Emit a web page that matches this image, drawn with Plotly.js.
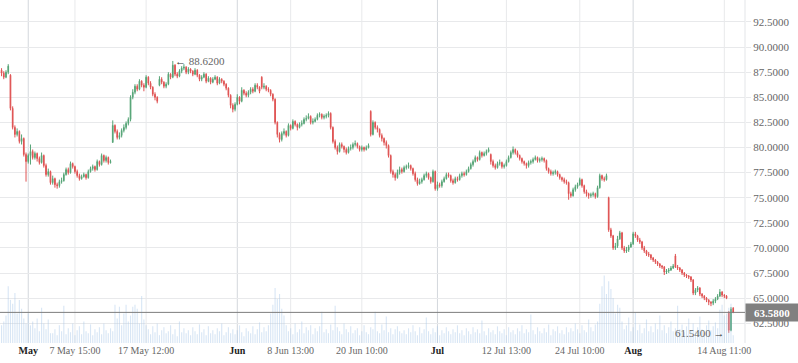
<!DOCTYPE html>
<html>
<head>
<meta charset="utf-8">
<script src="https://cdn.plot.ly/plotly-3.0.1.min.js"></script>
<style>html,body{margin:0;padding:0;background:#fff;}#chart{width:798px;height:363px;}</style>
</head>
<body>
<div id="chart"></div>
<script>
// ---- data ----
const opens = [
87.7,87.4,87.0,87.5,87.2,83.9,82.0,81.3,81.6,80.6,
80.9,79.3,78.6,79.2,79.6,79.0,79.4,78.9,78.5,79.2,
78.2,77.3,77.6,76.5,76.9,76.3,76.2,76.6,76.7,77.3,
77.8,77.5,78.4,78.1,77.6,77.2,76.9,77.1,77.3,77.0,
77.6,77.9,78.1,77.8,78.6,78.3,79.2,78.7,79.0,78.5,
80.5,82.2,81.6,81.0,81.2,81.7,82.0,82.4,82.8,85.0,
85.5,86.1,85.8,86.6,86.2,86.0,87.0,86.4,86.0,85.3,
85.0,86.2,86.8,86.5,86.1,86.3,87.3,87.0,88.2,87.3,
87.1,87.6,87.9,88.0,87.5,87.8,87.6,87.3,87.7,87.2,
86.8,87.0,87.3,86.6,86.9,86.5,86.8,87.0,86.4,86.8,
86.6,86.3,85.9,85.2,84.2,83.8,84.3,85.0,84.6,85.7,
85.4,85.2,85.5,85.8,85.6,86.2,86.0,87.0,86.0,86.1,
85.8,85.7,85.3,84.8,82.5,81.3,80.8,81.4,81.6,81.2,
82.2,81.9,82.6,82.3,82.0,82.3,82.4,82.8,82.9,83.1,
82.5,82.6,82.8,83.2,83.3,83.0,83.1,83.2,83.4,82.0,
80.6,80.0,79.6,80.3,80.1,79.8,79.5,79.9,80.0,80.3,
80.4,80.1,79.8,80.0,79.8,80.0,83.6,81.3,82.5,82.0,
81.8,81.2,80.9,80.5,80.2,79.2,77.6,77.3,77.0,77.5,
77.8,77.6,78.0,78.1,78.2,77.9,77.4,76.8,76.4,76.6,
76.8,77.2,77.4,77.0,76.6,77.6,75.9,76.3,76.2,76.6,
76.9,77.3,77.2,76.7,76.5,76.9,76.8,77.2,77.4,77.3,
77.6,77.9,78.3,78.6,79.0,78.8,79.5,79.2,79.4,79.6,
79.3,78.6,78.2,78.0,78.4,78.5,78.1,78.2,78.6,79.0,
79.5,79.8,79.5,79.2,78.9,78.6,78.4,78.2,78.5,78.6,
78.8,79.0,78.7,78.8,78.9,78.7,77.9,77.6,77.4,77.5,
77.6,77.3,77.0,76.8,76.6,76.5,75.4,75.2,75.8,76.1,
76.3,76.8,76.2,75.6,75.4,75.2,75.3,75.4,75.1,76.0,
77.2,76.9,76.8,75.0,71.8,71.2,70.0,70.2,70.9,71.5,
70.0,69.7,69.8,70.1,70.4,71.4,71.2,70.8,70.6,70.0,
69.7,69.4,69.3,69.0,68.8,68.6,68.4,68.2,68.1,67.6,
67.7,67.8,68.0,69.2,68.1,68.0,67.8,67.5,67.3,67.2,
67.1,66.8,65.5,65.8,66.0,65.4,65.2,65.0,64.8,64.6,
64.5,64.7,64.9,65.2,65.6,65.3,65.2,63.6,61.8,64.0
];
const highs = [
87.9,87.6,87.7,88.3,87.3,84.1,82.2,81.9,81.7,81.3,
81.0,79.5,79.4,80.3,79.8,79.6,79.5,79.1,79.5,79.3,
78.4,77.9,77.7,77.2,77.0,76.5,76.8,77.0,77.5,78.0,
78.0,78.6,78.5,78.2,77.8,77.4,77.3,77.5,77.4,77.8,
78.1,78.3,78.2,78.8,78.7,79.4,79.3,79.2,79.1,78.8,
82.7,82.3,81.8,81.5,81.9,82.3,82.6,83.0,85.2,85.8,
86.3,86.3,86.8,86.7,86.4,87.2,87.1,86.6,86.1,85.5,
85.1,87.1,87.0,86.6,86.5,87.5,87.4,88.62,88.3,87.5,
87.8,88.1,88.3,88.1,88.0,87.9,87.7,87.9,87.8,87.3,
87.2,87.5,87.4,87.1,87.0,87.0,87.2,87.1,87.0,86.9,
86.7,86.4,86.0,85.3,84.4,84.5,85.3,85.1,86.0,85.8,
85.6,85.7,86.0,86.0,86.4,86.4,86.1,87.1,86.4,86.2,
86.0,85.8,85.4,84.9,82.6,81.5,81.6,81.9,81.7,82.4,
82.3,82.8,82.7,82.4,82.5,82.7,83.0,83.2,83.4,83.2,
82.9,83.0,83.4,83.5,83.4,83.3,83.4,83.6,83.5,82.1,
80.8,80.2,80.5,80.5,80.2,80.0,80.1,80.3,80.5,80.7,
80.5,80.2,80.2,80.1,80.2,80.4,83.7,82.7,82.6,82.2,
81.9,81.4,81.0,80.7,80.3,79.3,77.8,77.5,77.8,78.1,
78.0,78.2,78.3,78.5,78.3,78.0,77.6,77.0,76.9,77.0,
77.4,77.6,77.5,77.1,77.8,77.7,76.6,76.5,76.8,77.1,
77.5,77.5,77.3,76.9,77.1,77.1,77.4,77.6,77.6,77.8,
78.1,78.5,78.8,79.2,79.1,79.7,79.6,79.6,79.8,80.0,
79.4,78.8,78.4,78.6,78.8,78.6,78.4,78.8,79.2,79.7,
80.1,79.9,79.7,79.3,79.0,78.7,78.5,78.7,78.8,79.0,
79.2,79.1,79.0,79.1,79.0,78.8,78.0,77.8,77.7,77.8,
77.7,77.4,77.1,77.0,76.8,76.6,75.6,76.0,76.3,76.5,
77.0,76.9,76.3,75.8,75.5,75.5,75.6,75.5,76.2,77.4,
77.3,77.1,77.4,75.1,72.0,71.3,70.5,71.2,71.7,71.6,
70.2,70.1,70.3,70.6,71.6,71.6,71.3,71.0,70.7,70.2,
69.8,69.6,69.4,69.1,68.9,68.7,68.5,68.3,68.2,67.9,
68.0,68.2,68.4,69.4,68.3,68.1,67.9,67.6,67.4,67.3,
67.2,66.9,66.0,66.2,66.1,65.5,65.3,65.1,64.9,64.7,
64.9,65.1,65.4,65.9,65.7,65.4,65.3,63.7,64.1,64.1
];
const lows = [
87.1,86.8,86.9,87.3,83.7,81.8,81.0,81.1,80.4,80.3,
79.1,76.6,78.4,78.3,78.8,78.8,78.6,78.3,78.4,78.0,
77.1,77.1,76.3,76.3,76.0,75.9,76.0,76.4,76.6,77.2,
77.3,77.4,77.9,77.4,77.0,76.7,76.8,77.0,76.8,76.9,
77.5,77.7,77.6,77.7,78.1,78.2,78.5,78.5,78.3,78.4,
80.5,81.4,80.8,80.8,81.0,81.5,81.8,82.2,82.6,84.8,
85.3,85.6,85.7,86.0,85.6,85.9,86.2,85.8,85.1,84.7,
84.4,86.1,86.3,85.9,85.9,86.2,86.8,86.9,87.1,86.9,
87.0,87.4,87.7,87.3,87.3,87.4,87.1,87.2,87.0,86.6,
86.6,86.9,86.4,86.5,86.3,86.4,86.7,86.2,86.3,86.4,
86.1,85.7,85.0,83.9,83.5,83.6,84.2,84.3,84.5,85.2,
85.0,85.0,85.3,85.4,85.5,85.8,85.4,85.8,85.8,85.6,
85.5,85.1,84.6,82.3,81.0,80.5,80.6,81.2,81.0,81.1,
81.7,81.8,82.1,81.7,81.9,82.1,82.3,82.6,82.8,82.3,
82.3,82.5,82.7,83.0,82.8,82.8,82.9,83.0,81.8,80.4,
79.8,79.3,79.5,79.9,79.5,79.3,79.4,79.7,79.8,80.1,
79.9,79.6,79.6,79.6,79.7,79.9,81.1,81.2,81.8,81.5,
81.0,80.6,80.2,79.9,79.0,77.4,77.0,76.7,76.9,77.3,
77.4,77.5,77.8,77.9,77.7,77.2,76.6,76.2,76.3,76.4,
76.7,77.0,76.8,76.4,76.5,75.7,75.7,76.0,76.0,76.5,
76.8,77.0,76.5,76.3,76.4,76.6,76.7,77.0,77.1,77.2,
77.5,77.8,78.1,78.5,78.6,78.7,79.0,79.1,79.2,79.5,
78.3,78.0,77.8,77.9,78.2,77.9,77.9,78.1,78.5,78.9,
79.3,79.3,79.0,78.7,78.4,78.2,77.9,78.0,78.3,78.4,
78.7,78.5,78.5,78.6,78.5,77.7,77.4,77.2,77.2,77.3,
77.1,76.8,76.6,76.4,76.3,74.8,75.0,75.1,75.6,75.9,
76.2,76.0,75.4,75.1,74.9,75.0,75.1,74.9,75.0,75.9,
76.7,76.6,76.7,71.6,71.0,69.8,69.8,70.0,70.8,69.8,
69.5,69.5,69.6,70.0,70.3,71.0,70.6,70.4,69.8,69.5,
69.2,69.1,68.8,68.6,68.4,68.2,68.0,67.9,67.3,67.4,
67.5,67.7,67.9,68.0,67.8,67.6,67.3,67.1,67.0,66.9,
66.6,65.3,65.3,65.6,65.2,65.0,64.8,64.6,64.3,64.2,
64.3,64.5,64.8,65.1,65.1,65.0,64.9,61.54,61.7,63.5
];
const closes = [
87.4,87.0,87.5,88.1,83.9,82.0,81.3,81.6,80.6,80.9,
79.3,78.6,79.2,79.6,79.0,79.4,78.9,78.5,79.2,78.2,
77.3,77.6,76.5,76.9,76.3,76.2,76.6,76.7,77.3,77.8,
77.5,78.4,78.1,77.6,77.2,76.9,77.1,77.3,77.0,77.6,
77.9,78.1,77.8,78.6,78.3,79.2,78.7,79.0,78.5,78.6,
82.2,81.6,81.0,81.2,81.7,82.0,82.4,82.8,85.0,85.5,
86.1,85.8,86.6,86.2,86.0,87.0,86.4,86.0,85.3,85.0,
84.6,86.8,86.5,86.1,86.3,87.3,87.0,88.2,87.3,87.1,
87.6,87.9,88.0,87.5,87.8,87.6,87.3,87.7,87.2,86.8,
87.0,87.3,86.6,86.9,86.5,86.8,87.0,86.4,86.8,86.6,
86.3,85.9,85.2,84.2,83.8,84.3,85.0,84.6,85.7,85.4,
85.2,85.5,85.8,85.6,86.2,86.0,85.6,86.0,86.1,85.8,
85.7,85.3,84.8,82.5,81.3,80.8,81.4,81.6,81.2,82.2,
81.9,82.6,82.3,82.0,82.3,82.4,82.8,82.9,83.1,82.5,
82.6,82.8,83.2,83.3,83.0,83.1,83.2,83.4,82.0,80.6,
80.0,79.6,80.3,80.1,79.8,79.5,79.9,80.0,80.3,80.4,
80.1,79.8,80.0,79.8,80.0,80.2,81.3,82.5,82.0,81.8,
81.2,80.9,80.5,80.2,79.2,77.6,77.3,77.0,77.5,77.8,
77.6,78.0,78.1,78.2,77.9,77.4,76.8,76.4,76.6,76.8,
77.2,77.4,77.0,76.6,77.6,75.9,76.3,76.2,76.6,76.9,
77.3,77.2,76.7,76.5,76.9,76.8,77.2,77.4,77.3,77.6,
77.9,78.3,78.6,79.0,78.8,79.5,79.2,79.4,79.6,79.8,
78.6,78.2,78.0,78.4,78.5,78.1,78.2,78.6,79.0,79.5,
79.8,79.5,79.2,78.9,78.6,78.4,78.2,78.5,78.6,78.8,
79.0,78.7,78.8,78.9,78.7,77.9,77.6,77.4,77.5,77.6,
77.3,77.0,76.8,76.6,76.5,75.4,75.2,75.8,76.1,76.3,
76.8,76.2,75.6,75.4,75.2,75.3,75.4,75.1,76.0,77.2,
76.9,76.8,77.2,71.8,71.2,70.0,70.2,70.9,71.5,70.0,
69.7,69.8,70.1,70.4,71.4,71.2,70.8,70.6,70.0,69.7,
69.4,69.3,69.0,68.8,68.6,68.4,68.2,68.1,67.6,67.7,
67.8,68.0,68.2,68.1,68.0,67.8,67.5,67.3,67.2,67.1,
66.8,65.5,65.8,66.0,65.4,65.2,65.0,64.8,64.6,64.5,
64.7,64.9,65.2,65.6,65.3,65.2,65.0,61.8,63.9,63.58
];
const volumes = [
18,22,28,58, 44,40,51,30,44,35, 25,20,30,18,
22,15,25,12,36,20,14,24,10,
10,14,8,18,12,38,9,15,11,20,8,13,17,9,22,12,10,19,8,14,11,16,9,20,13,10,15,12,
39,25,37,18,30,39,22,28,37,39,35,20,48,24,18,
14,9,17,11,20,8,13,16,10,12,18,9,14,7,22,11,15,10,13,8,
16,12,9,19,11,14,8,17,10,13,9,15,12,20,8,11,16,10,14,9,
13,18,11,7,15,12,10,17,9,14,21,11,16,12,18,
30,39,56,45,50,35,28,
18,12,15,9,20,11,14,22,10,16,13,18,9,15,12,17,32,11,14,10,
19,13,38,16,12,9,20,14,11,17,10,13,15,8,12,18,11,9,16,14,
32,12,10,19,13,27,11,15,9,14,17,12,10,
13,9,15,11,18,12,8,16,10,14,26,12,9,15,11,17,8,13,10,16,
12,9,14,11,18,10,13,8,15,12,9,16,11,14,10,23,12,8,15,11,
13,9,17,12,10,14,8,16,11,13,9,15,12,18,10,14,11,29,13,9,
16,12,10,15,11,19,8,14,12,17,10,13,9,16,11,15,12,20,14,10,
18,13,11,24,16,12,19,22,
40,58,69,50,63,55,46,30,39,36,
22,14,18,26,12,16,31,13,19,10,15,24,12,17,11,20,14,28,13,18,
10,16,22,12,15,38,14,19,11,17,25,13,20,12,16,27,14,10,18,23,
13,17,21,15,
34,39,28,30,36,40,8
];
const tickIndex = [12, 33, 65, 106, 130, 162, 196, 227, 260, 284, 325];
const tickLabels = ['May','7 May 15:00','17 May 12:00','Jun','8 Jun 13:00','20 Jun 10:00','Jul','12 Jul 13:00','24 Jul 10:00','Aug','14 Aug 11:00'];
const monthLabels = ['May','Jun','Jul','Aug'];

// ---- chart ----
const idx = closes.map((_, i) => i);
const FONT = 'Liberation Serif, Times New Roman, serif';
const RED = '#df5252', GREEN = '#55a476';

let maxI = 0, minI = 0;
highs.forEach((v, i) => { if (v > highs[maxI]) maxI = i; });
lows.forEach((v, i) => { if (v < lows[minI]) minI = i; });
const last = closes[closes.length - 1];

const volTrace = {
  type: 'bar', x: idx, y: volumes, yaxis: 'y2', hoverinfo: 'skip',
  marker: { color: 'rgba(168,200,232,0.45)', line: { width: 0 } }
};
const candle = {
  type: 'candlestick', x: idx, open: opens, high: highs, low: lows, close: closes,
  increasing: { line: { color: GREEN, width: 1 }, fillcolor: GREEN },
  decreasing: { line: { color: RED, width: 1 }, fillcolor: RED },
  whiskerwidth: 0, hoverinfo: 'skip'
};

const shapes = tickIndex.map((t, k) => ({
  type: 'line', xref: 'x', yref: 'paper', x0: t, x1: t, y0: 0, y1: 1, layer: 'below',
  line: { color: monthLabels.includes(tickLabels[k]) ? '#d3d7dc' : '#e8e9eb', width: 1 }
}));
shapes.push({ type: 'line', xref: 'paper', yref: 'paper', x0: 1, x1: 1, y0: 0, y1: 1, layer: 'below',
  line: { color: '#e3e5e8', width: 1 } });
shapes.push({ type: 'line', xref: 'paper', yref: 'y', x0: 0, x1: 1, y0: last, y1: last,
  line: { color: '#7d7d7d', width: 1 } });

const ticktext = tickLabels.map(t => monthLabels.includes(t)
  ? '<b><span style="color:#222">' + t + '</span></b>' : t);

const layout = {
  width: 798, height: 363,
  margin: { l: 0, r: 53, t: 0, b: 20, pad: 0 },
  paper_bgcolor: '#fff', plot_bgcolor: '#fff',
  showlegend: false, hovermode: false, bargap: 0.5, boxgap: 0.55,
  font: { family: FONT, size: 11, color: '#666' },
  xaxis: {
    type: 'linear', range: [-0.7, 334.3], rangeslider: { visible: false },
    showgrid: false, zeroline: false, showline: false, ticks: '',
    tickmode: 'array', tickvals: tickIndex, ticktext: ticktext,
    tickfont: { family: FONT, size: 10, color: '#666' }, tickangle: 0
  },
  yaxis: {
    side: 'right', range: [60.53, 94.69], tickmode: 'linear', tick0: 0, dtick: 2.5,
    tickformat: '.4f', gridcolor: '#e8e9eb', zeroline: false, showline: false,
    ticks: 'outside', ticklen: 5, tickcolor: '#e8e9eb',
    tickfont: { family: FONT, size: 11, color: '#666' }
  },
  yaxis2: { overlaying: 'y', range: [0, 350], visible: false, fixedrange: true },
  shapes: shapes,
  annotations: [
    { xref: 'x', yref: 'y', x: maxI, y: highs[maxI], xanchor: 'left', yanchor: 'middle',
      text: '<span style="color:#333">←</span> ' + highs[maxI].toFixed(4), showarrow: false,
      font: { family: FONT, size: 11, color: '#666' } },
    { xref: 'x', yref: 'y', x: minI, y: lows[minI], xanchor: 'right', yanchor: 'middle', xshift: -2,
      text: lows[minI].toFixed(4) + ' <span style="color:#333">→</span>', showarrow: false,
      font: { family: FONT, size: 11, color: '#666' } },
    { xref: 'paper', yref: 'y', x: 1, y: last, xanchor: 'left', yanchor: 'middle',
      text: '<b>' + last.toFixed(4) + '</b>', showarrow: false, bgcolor: '#808080',
      width: 50, height: 15, borderpad: 1,
      font: { family: FONT, size: 11, color: '#fff' } }
  ]
};

Plotly.newPlot('chart', [volTrace, candle], layout, { staticPlot: true, displayModeBar: false });
</script>
</body>
</html>
